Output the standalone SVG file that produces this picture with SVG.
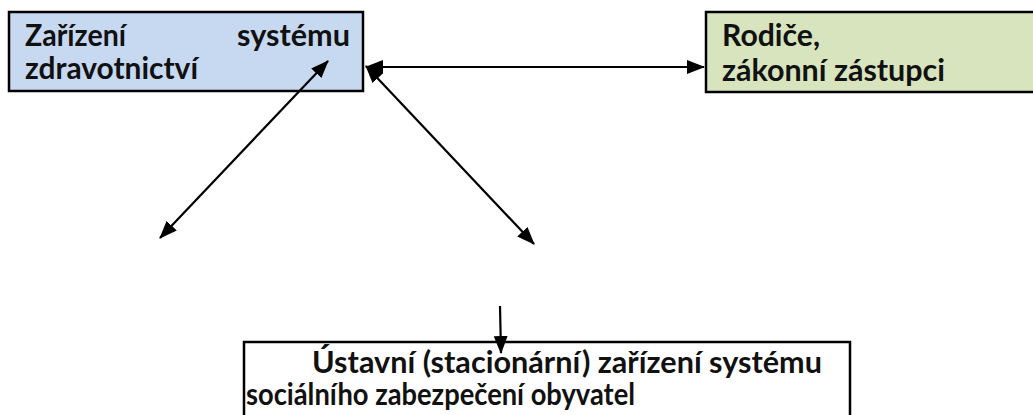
<svg xmlns="http://www.w3.org/2000/svg" width="1033" height="415" viewBox="0 0 1033 415">
  <style>
    .box { stroke: #000; stroke-width: 2.5; }
    .label { font-family: Lato, "Open Sans", "Liberation Sans", sans-serif; font-weight: bold; font-size: 30px; fill: #111; }
    .conn { stroke: #000; stroke-width: 2.2; fill: none; }
  </style>
  <defs>
    <marker id="head" markerUnits="userSpaceOnUse" markerWidth="18" markerHeight="14" refX="17" refY="7" orient="auto-start-reverse">
      <path d="M0,0 L18,7 L0,14 Z" fill="#000"/>
    </marker>
  </defs>

  <rect width="1033" height="415" fill="#fff"/>

  <g id="zdravotnictvi">
    <rect class="box" x="9" y="12" width="354" height="79" fill="#c6d9f1"/>
    <text class="label" x="25" y="46" textLength="101" lengthAdjust="spacingAndGlyphs">Zařízení</text>
    <text class="label" x="237" y="46" textLength="113" lengthAdjust="spacingAndGlyphs">systému</text>
    <text class="label" x="25" y="79" textLength="173" lengthAdjust="spacingAndGlyphs">zdravotnictví</text>
  </g>

  <g id="rodice">
    <rect class="box" x="706" y="12" width="340" height="80" fill="#d7e4bd"/>
    <text class="label" x="722" y="46" textLength="98" lengthAdjust="spacingAndGlyphs">Rodiče,</text>
    <text class="label" x="722" y="81" textLength="223" lengthAdjust="spacingAndGlyphs">zákonní zástupci</text>
  </g>

  <g id="ustavni-zarizeni">
    <rect class="box" x="244" y="342" width="606" height="90" fill="#fff"/>
    <text class="label" x="312" y="373" textLength="510" lengthAdjust="spacingAndGlyphs">Ústavní (stacionární) zařízení systému</text>
    <text class="label" x="246" y="405" textLength="389" lengthAdjust="spacingAndGlyphs">sociálního zabezpečení obyvatel</text>
  </g>

  <g id="connectors">
    <line class="conn" x1="160" y1="238" x2="328" y2="61" marker-start="url(#head)" marker-end="url(#head)"/>
    <line class="conn" x1="366" y1="66" x2="534" y2="244" marker-start="url(#head)" marker-end="url(#head)"/>
    <line class="conn" x1="366" y1="67" x2="704" y2="67" marker-start="url(#head)" marker-end="url(#head)"/>
    <line class="conn" x1="500" y1="306" x2="501" y2="353" marker-end="url(#head)"/>
  </g>
</svg>
